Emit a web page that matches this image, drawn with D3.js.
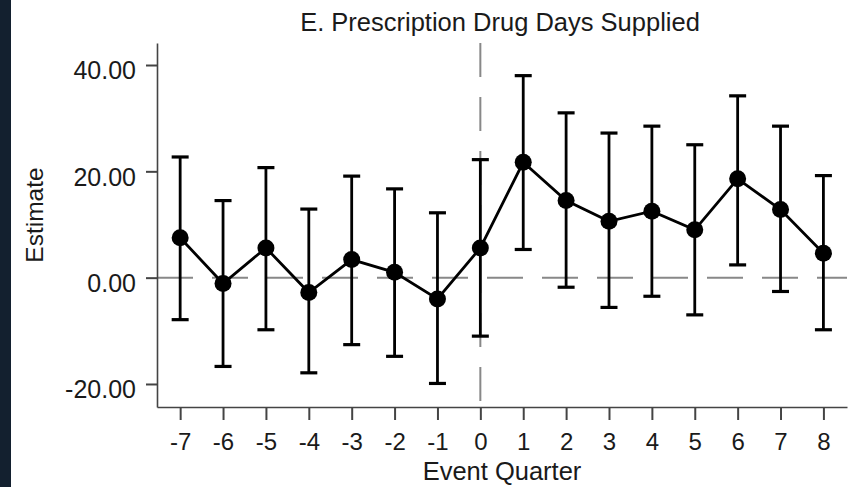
<!DOCTYPE html>
<html>
<head>
<meta charset="utf-8">
<script src="https://cdn.jsdelivr.net/npm/d3@7"></script>
<style>
  body { margin: 0; background: #ffffff; }
  svg { display: block; }
</style>
</head>
<body>
<script>
var w = 856;
var h = 487;

// event quarters and estimates with 95% bounds
var quarters = [-7, -6, -5, -4, -3, -2, -1, 0, 1, 2, 3, 4, 5, 6, 7, 8];
var estimates = [7.5, -1.1, 5.6, -2.8, 3.4, 1.0, -4.0, 5.6, 21.7, 14.5, 10.6, 12.5, 9.0, 18.6, 12.8, 4.6];
var lower = [-7.9, -16.7, -9.8, -17.9, -12.6, -14.8, -19.9, -11.0, 5.3, -1.8, -5.6, -3.5, -7.0, 2.4, -2.6, -9.8];
var upper = [22.7, 14.5, 20.7, 12.9, 19.1, 16.7, 12.2, 22.2, 38.0, 31.0, 27.2, 28.5, 25.0, 34.2, 28.5, 19.2];
var yTicks = [-20, 0, 20, 40];

var titleText = "E. Prescription Drug Days Supplied";
var xLabel = "Event Quarter";
var yLabel = "Estimate";

var font = "'Liberation Sans', Arial, Helvetica, sans-serif";
var textColor = "#1a1a1a";
var axisColor = "#444";

var svg = d3.select("body")
    .append("svg")
    .attr("width", w)
    .attr("height", h);

// dark strip on the left edge
svg.append("rect")
    .attr("x", 0)
    .attr("y", 0)
    .attr("width", 11)
    .attr("height", h)
    .attr("fill", "#13202f");

var x = d3.scaleLinear()
    .domain([-7.54, 8.55])
    .range([157, 847]);

var y = d3.scaleLinear()
    .domain([-24.33, 44.14])
    .range([407, 43]);

//---reference lines-----
svg.append("line")
    .attr("x1", x.range()[0])
    .attr("x2", x.range()[1])
    .attr("y1", y(0))
    .attr("y2", y(0))
    .attr("stroke", "#888")
    .attr("stroke-width", 2)
    .attr("stroke-dasharray", "36,19");

svg.append("line")
    .attr("x1", x(0))
    .attr("x2", x(0))
    .attr("y1", y.range()[1])
    .attr("y2", y.range()[0])
    .attr("stroke", "#888")
    .attr("stroke-width", 2)
    .attr("stroke-dasharray", "34,20");

//---axes-----
var xAxis = svg.append("g")
    .attr("transform", "translate(0," + y.range()[0] + ")")
    .call(d3.axisBottom(x)
        .tickValues(quarters)
        .tickFormat(function (d) { return String(d); })
        .tickSize(13)
        .tickSizeOuter(0)
        .tickPadding(13));

var yAxis = svg.append("g")
    .attr("transform", "translate(" + x.range()[0] + ",0)")
    .call(d3.axisLeft(y)
        .tickValues(yTicks)
        .tickFormat(function (d) { return d.toFixed(2); })
        .tickSize(11)
        .tickSizeOuter(0)
        .tickPadding(10));

[xAxis, yAxis].forEach(function (g) {
    g.select(".domain").attr("stroke", axisColor).attr("stroke-width", 1.6);
    g.selectAll(".tick line").attr("stroke", axisColor).attr("stroke-width", 2);
    g.selectAll(".tick text")
        .attr("fill", textColor)
        .attr("font-family", font);
});
xAxis.selectAll(".tick text").attr("font-size", 24);
yAxis.selectAll(".tick text")
    .attr("font-size", 25)
    .attr("dy", "0.55em");

//---error bars-----
var capHalf = 8.5;
var bars = svg.append("g")
    .selectAll("g")
    .data(quarters)
    .join("g");

bars.append("line")
    .attr("x1", function (d) { return x(d); })
    .attr("x2", function (d) { return x(d); })
    .attr("y1", function (d, i) { return y(lower[i]); })
    .attr("y2", function (d, i) { return y(upper[i]); })
    .attr("stroke", "#000")
    .attr("stroke-width", 2.8);

bars.append("line")
    .attr("x1", function (d) { return x(d) - capHalf; })
    .attr("x2", function (d) { return x(d) + capHalf; })
    .attr("y1", function (d, i) { return y(upper[i]); })
    .attr("y2", function (d, i) { return y(upper[i]); })
    .attr("stroke", "#000")
    .attr("stroke-width", 3.2);

bars.append("line")
    .attr("x1", function (d) { return x(d) - capHalf; })
    .attr("x2", function (d) { return x(d) + capHalf; })
    .attr("y1", function (d, i) { return y(lower[i]); })
    .attr("y2", function (d, i) { return y(lower[i]); })
    .attr("stroke", "#000")
    .attr("stroke-width", 3.2);

//---estimate line and points-----
var line = d3.line()
    .x(function (d) { return x(d); })
    .y(function (d, i) { return y(estimates[i]); });

svg.append("path")
    .datum(quarters)
    .attr("d", line)
    .attr("fill", "none")
    .attr("stroke", "#000")
    .attr("stroke-width", 2.8);

svg.append("g")
    .selectAll("circle")
    .data(quarters)
    .join("circle")
    .attr("cx", function (d) { return x(d); })
    .attr("cy", function (d, i) { return y(estimates[i]); })
    .attr("r", 8.5)
    .attr("fill", "#000");

//----text------
svg.append("text")
    .text(titleText)
    .attr("x", 500)
    .attr("y", 31)
    .attr("text-anchor", "middle")
    .attr("font-size", 25.5)
    .attr("font-family", font)
    .attr("fill", textColor);

svg.append("text")
    .text(xLabel)
    .attr("x", 502)
    .attr("y", 480)
    .attr("text-anchor", "middle")
    .attr("font-size", 25.5)
    .attr("font-family", font)
    .attr("fill", textColor);

svg.append("text")
    .text(yLabel)
    .attr("transform", "translate(43,215) rotate(-90)")
    .attr("text-anchor", "middle")
    .attr("font-size", 24.5)
    .attr("font-family", font)
    .attr("fill", textColor);
</script>
</body>
</html>
